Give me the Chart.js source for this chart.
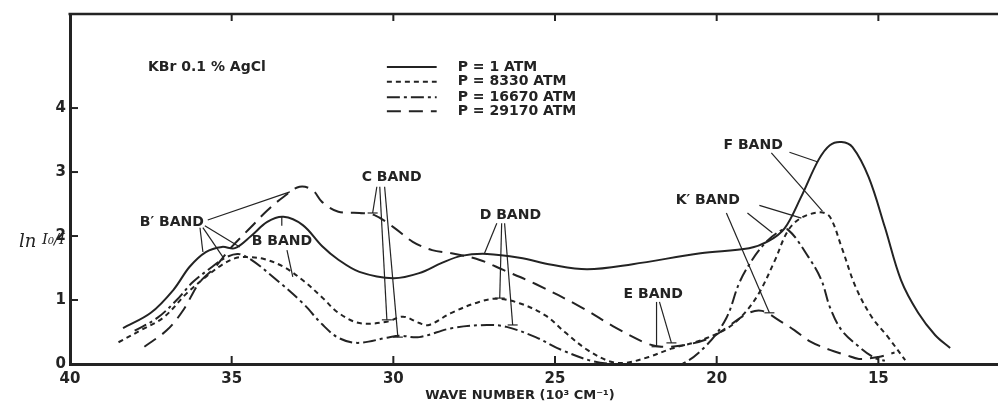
<!DOCTYPE html>
<html><head><meta charset="utf-8">
<script src="https://cdn.jsdelivr.net/npm/chart.js@4.4.1/dist/chart.umd.min.js"></script>
<style>html,body{margin:0;padding:0;background:#fff;}canvas{display:block;}</style>
</head><body>
<canvas id="c" width="998" height="406"></canvas>
<script>
// ---- data ----
const xTicks = [40, 35, 30, 25, 20, 15];
const yTicks = [0, 1, 2, 3, 4];
const seriesNames = ['P = 1 ATM', 'P = 8330 ATM', 'P = 16670 ATM', 'P = 29170 ATM'];

const p1X = [38.36,37.5,36.8,36.3,35.8,35.3,34.9,34.4,33.9,33.4,32.8,32.2,31.7,31.05,30.0,29.2,28.5,27.9,27.1,26.1,25.1,24.0,22.6,20.5,19.0,18.4,17.9,17.4,16.85,16.5,16.14,15.8,15.3,14.8,14.3,13.77,13.24,12.78];
const p1Y = [0.56,0.8,1.16,1.52,1.75,1.83,1.81,2.0,2.22,2.3,2.17,1.84,1.63,1.44,1.34,1.42,1.58,1.69,1.72,1.66,1.55,1.48,1.56,1.73,1.81,1.92,2.12,2.6,3.19,3.42,3.47,3.39,2.92,2.14,1.31,0.8,0.45,0.25];

const p8330X = [38.5,37.8,37.1,36.4,35.8,35.3,34.85,34.5,34.0,33.4,32.8,32.2,31.7,31.05,30.2,29.7,29.2,28.9,28.2,27.35,26.8,26.1,25.3,24.7,24.0,23.3,22.8,22.1,21.4,20.55,19.7,19.2,18.7,18.2,17.8,17.4,16.8,16.5,16.14,15.7,15.2,14.7,14.17];
const p8330Y = [0.34,0.53,0.73,1.1,1.36,1.55,1.66,1.67,1.64,1.52,1.31,1.04,0.8,0.64,0.66,0.74,0.64,0.61,0.8,0.97,1.02,0.95,0.76,0.5,0.22,0.04,0.02,0.11,0.24,0.36,0.55,0.76,1.1,1.62,2.08,2.28,2.37,2.3,1.83,1.2,0.73,0.42,0.06];

const p16670X = [38.0,37.3,36.7,36.2,35.6,35.2,34.8,34.4,33.6,32.8,32.2,31.7,31.1,30.2,29.8,29.2,28.2,27.1,26.5,25.6,24.8,23.8,23.0,22.0,21.1,20.3,19.7,19.3,18.9,18.5,18.1,17.8,17.16,16.76,16.5,16.14,15.6,15.1,14.8];
const p16670Y = [0.52,0.72,1.0,1.28,1.52,1.66,1.72,1.63,1.31,0.95,0.62,0.41,0.33,0.41,0.44,0.42,0.56,0.61,0.58,0.42,0.22,0.04,0.0,0.0,0.0,0.3,0.72,1.27,1.63,1.89,2.06,2.1,1.67,1.31,0.89,0.53,0.27,0.09,0.05];

const p29170X = [37.7,37.0,36.5,36.0,35.5,35.0,34.4,33.9,33.4,32.9,32.5,32.2,31.7,31.05,30.6,30.0,29.4,28.8,28.2,27.35,26.6,25.6,24.2,23.1,22.2,21.7,20.95,20.15,19.5,19.0,18.6,18.0,17.6,17.1,16.5,16.0,15.6,15.0,14.5];
const p29170Y = [0.27,0.53,0.84,1.27,1.52,1.83,2.14,2.4,2.61,2.77,2.72,2.53,2.38,2.36,2.33,2.14,1.91,1.78,1.73,1.63,1.47,1.25,0.89,0.56,0.33,0.27,0.3,0.42,0.64,0.8,0.83,0.66,0.53,0.35,0.22,0.14,0.08,0.11,0.18];

// band labels (data coordinates) and leader lines [x1,y1,x2,y2,hasBar]
const bandLabels = [
  {text: 'B\u2032 BAND', x: 37.84, y: 2.22},
  {text: 'B BAND', x: 34.38, y: 1.91},
  {text: 'C BAND', x: 30.98, y: 2.91},
  {text: 'D BAND', x: 27.33, y: 2.33},
  {text: 'E BAND', x: 22.88, y: 1.09},
  {text: 'K\u2032 BAND', x: 21.27, y: 2.55},
  {text: 'F BAND', x: 19.79, y: 3.42}
];
const leaderLines = [
  [35.74,2.25,33.20,2.69,0],[35.98,2.13,35.89,1.75,0],[35.89,2.13,35.27,1.67,0],[35.83,2.16,34.75,1.83,0],
  [33.45,2.16,33.45,2.30,0],[33.29,1.78,33.11,1.36,0],
  [30.51,2.77,30.64,2.36,1],[30.42,2.77,30.20,0.69,1],[30.27,2.77,29.86,0.42,1],
  [26.80,2.20,27.18,1.73,0],[26.65,2.20,26.71,1.03,1],[26.56,2.20,26.31,0.61,1],
  [21.86,0.97,21.86,0.27,1],[21.77,0.97,21.40,0.33,1],
  [19.70,2.36,18.37,0.80,1],[19.05,2.36,18.28,2.05,0],[18.68,2.48,17.38,2.28,0],
  [17.75,3.31,16.89,3.16,0],[18.31,3.30,16.73,2.39,0]
];
const sampleNote = {text: 'KBr 0.1 % AgCl', x: 37.59, y: 4.64};
const legendPos = {x1: 30.2, x2: 28.66, xt: 28.01, ys: [4.64, 4.41, 4.17, 3.95]};

// ---- styles ----
const INK = '#232323';
const dashes = [[], [5, 4], [13, 4, 3, 4], [14, 8]];
const FONT = 'bold 14px "DejaVu Sans"';

function pts(xs, ys) { return xs.map((x, i) => ({x: x, y: ys[i]})); }
const seriesData = [pts(p1X, p1Y), pts(p8330X, p8330Y), pts(p16670X, p16670Y), pts(p29170X, p29170Y)];

const decor = {
  id: 'decor',
  afterDatasetsDraw(chart) {
    const ctx = chart.ctx, xs = chart.scales.x, ys = chart.scales.y, a = chart.chartArea;
    const X = v => xs.getPixelForValue(v), Y = v => ys.getPixelForValue(v);
    ctx.save();
    ctx.strokeStyle = INK; ctx.fillStyle = INK; ctx.lineCap = 'butt';
    // top frame
    ctx.lineWidth = 2.5;
    ctx.beginPath(); ctx.moveTo(a.left - 1.5, a.top); ctx.lineTo(a.right, a.top); ctx.stroke();
    // inward ticks
    ctx.lineWidth = 2;
    xTicks.forEach(v => {
      if (v === 40) return;
      const px = X(v);
      ctx.beginPath(); ctx.moveTo(px, a.bottom); ctx.lineTo(px, a.bottom - 8); ctx.stroke();
      ctx.beginPath(); ctx.moveTo(px, a.top); ctx.lineTo(px, a.top + 7); ctx.stroke();
    });
    yTicks.forEach(v => {
      if (v === 0) return;
      const py = Y(v);
      ctx.beginPath(); ctx.moveTo(a.left, py); ctx.lineTo(a.left + 8, py); ctx.stroke();
    });
    // leader lines
    ctx.lineWidth = 1.2;
    leaderLines.forEach(l => {
      const x1 = X(l[0]), y1 = Y(l[1]), x2 = X(l[2]), y2 = Y(l[3]);
      ctx.beginPath(); ctx.moveTo(x1, y1); ctx.lineTo(x2, y2); ctx.stroke();
      if (l[4]) { ctx.beginPath(); ctx.moveTo(x2 - 5, y2); ctx.lineTo(x2 + 5, y2); ctx.stroke(); }
    });
    // texts
    ctx.font = FONT; ctx.textAlign = 'left'; ctx.textBaseline = 'middle';
    bandLabels.forEach(b => ctx.fillText(b.text, X(b.x), Y(b.y)));
    ctx.fillText(sampleNote.text, X(sampleNote.x), Y(sampleNote.y));
    // legend
    seriesNames.forEach((n, i) => {
      const py = Y(legendPos.ys[i]);
      ctx.lineWidth = 2; ctx.setLineDash(dashes[i]);
      ctx.beginPath(); ctx.moveTo(X(legendPos.x1), py); ctx.lineTo(X(legendPos.x2), py); ctx.stroke();
      ctx.setLineDash([]);
      ctx.fillText(n, X(legendPos.xt), py);
    });
    // axis titles
    ctx.textAlign = 'center';
    ctx.font = 'bold 13px "DejaVu Sans"';
    ctx.fillText('WAVE NUMBER (10\u00B3 CM\u207B\u00B9)', 520, 396);
    ctx.textAlign = 'left';
    ctx.font = 'italic 18px "DejaVu Serif"';
    ctx.fillText('ln', 19, 242);
    ctx.font = 'italic 15px "DejaVu Serif"';
    ctx.fillText('I\u2080/I', 42, 240);
    ctx.restore();
  }
};

new Chart(document.getElementById('c'), {
  type: 'line',
  data: {
    datasets: seriesData.map((d, i) => ({
      label: seriesNames[i], data: d, borderColor: INK, borderWidth: 2,
      borderDash: dashes[i], pointRadius: 0, fill: false,
      tension: 0.35
    }))
  },
  options: {
    responsive: false, animation: false, devicePixelRatio: 1,
    layout: {padding: {top: 14, right: 0, left: 0, bottom: 0}},
    plugins: {legend: {display: false}, tooltip: {enabled: false}},
    scales: {
      x: {
        type: 'linear', reverse: true, min: 11.3, max: 40,
        grid: {display: false, drawTicks: false},
        border: {display: true, width: 3, color: INK},
        ticks: {color: INK, font: {family: 'DejaVu Sans', size: 15, weight: 'bold'}, padding: 6, maxRotation: 0},
        afterBuildTicks: s => { s.ticks = xTicks.map(v => ({value: v})); },
        afterFit: s => { s.height = 42; }
      },
      y: {
        type: 'linear', min: 0, max: 5.47,
        grid: {display: false, drawTicks: false},
        border: {display: true, width: 3, color: INK},
        ticks: {color: INK, font: {family: 'DejaVu Sans', size: 15, weight: 'bold'}, padding: 4},
        afterBuildTicks: s => { s.ticks = yTicks.map(v => ({value: v})); },
        afterFit: s => { s.width = 70; }
      }
    }
  },
  plugins: [decor]
});
</script>
</body></html>
